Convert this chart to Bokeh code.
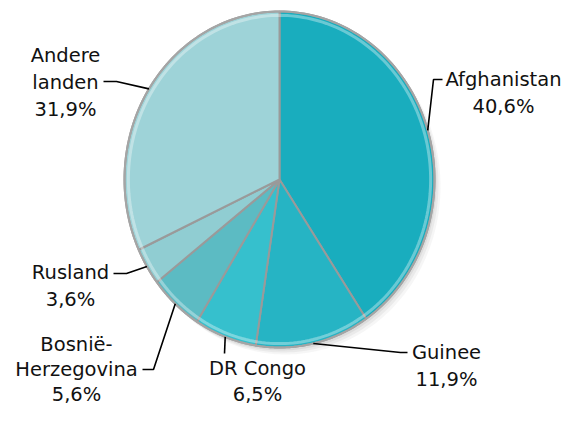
import numpy as np
from bokeh.plotting import figure
from bokeh.models import ColumnDataSource, Range1d
from bokeh.core.properties import value
from bokeh.embed import file_html
from bokeh.resources import INLINE

# ---- data ----
countries = ["Afghanistan", "Guinee", "DR Congo", "Bosnië-Herzegovina", "Rusland", "Andere landen"]
shares = [40.6, 11.9, 6.5, 5.6, 3.6, 31.9]
label_lines = [
    ["Afghanistan", "40,6%"],
    ["Guinee", "11,9%"],
    ["DR Congo", "6,5%"],
    ["Bosnië-", "Herzegovina", "5,6%"],
    ["Rusland", "3,6%"],
    ["Andere", "landen", "31,9%"],
]

# ---- styling / layout ----
colors = ["#19adbe", "#26b4c4", "#36c0cd", "#5cbbc3", "#90cdd2", "#9ed3d8"]
CX, CY, RX, RY = 279, 179, 155, 168
# label anchor (center x, first baseline y), line spacing, leader elbow and leader end
label_pos = [(503, 79), (446, 352), (257, 368), (76, 344), (70, 272), (65, 55)]
line_h = [27, 27, 26, 25, 27, 27]
elbows = [(433, 79), (400, 352), (224, 353), (153, 369), (126, 273), (116, 81)]
ends = [(442, 79), (407, 352), (224, 353), (142, 369), (113, 273), (103, 81)]

p = figure(width=564, height=405, output_backend="svg", toolbar_location=None,
           x_range=Range1d(0, 564), y_range=Range1d(405, 0), min_border=0)
p.axis.visible = False
p.grid.visible = False
p.outline_line_color = None
p.background_fill_color = "white"

total = sum(shares)
fr = np.array(shares) / total
cum = np.concatenate([[0], np.cumsum(fr)])

def ell(t):
    return CX + RX * np.sin(t), CY - RY * np.cos(t)

# soft shadow
tt = np.linspace(0, 2 * np.pi, 240)
for k, a in [(6, 0.05), (4, 0.07), (2, 0.09)]:
    sx, sy = ell(tt)
    p.patch(sx + k, sy + k + 1, fill_color="#555555", fill_alpha=a, line_color=None)

xs, ys = [], []
for i in range(len(shares)):
    t = np.linspace(cum[i] * 2 * np.pi, cum[i + 1] * 2 * np.pi, 80)
    ex, ey = ell(t)
    xs.append(np.concatenate([[CX], ex]).tolist())
    ys.append(np.concatenate([[CY], ey]).tolist())
src = ColumnDataSource(dict(xs=xs, ys=ys, color=colors, name=countries))
p.patches("xs", "ys", source=src, fill_color="color", line_color="#9a9a9a", line_width=2)

# outer rim highlight and edge
ox, oy = ell(tt)
p.line(CX + (ox - CX) * 0.975, CY + (oy - CY) * 0.977, line_color="white", line_alpha=0.35, line_width=3)
p.line(ox, oy, line_color="#a5a5a5", line_width=2)

# leader lines (start at each slice's mid-angle on the rim)
lx, ly = [], []
for i in range(len(shares)):
    tm = (cum[i] + cum[i + 1]) * np.pi
    mx, my = ell(tm)
    lx.append([float(mx), elbows[i][0], ends[i][0]])
    ly.append([float(my), elbows[i][1], ends[i][1]])
p.multi_line(lx, ly, line_color="black", line_width=1.6)

# labels
tx, ty, tt_ = [], [], []
for (x0, y0), lh, lines in zip(label_pos, line_h, label_lines):
    for j, s in enumerate(lines):
        tx.append(x0)
        ty.append(y0 + j * lh)
        tt_.append(s)
p.text(tx, ty, text=tt_, text_align="center", text_baseline="alphabetic",
       text_font=value("DejaVu Sans"), text_font_size="19.5px", text_color="#111111")

open("out.html", "w").write(file_html(p, INLINE))
